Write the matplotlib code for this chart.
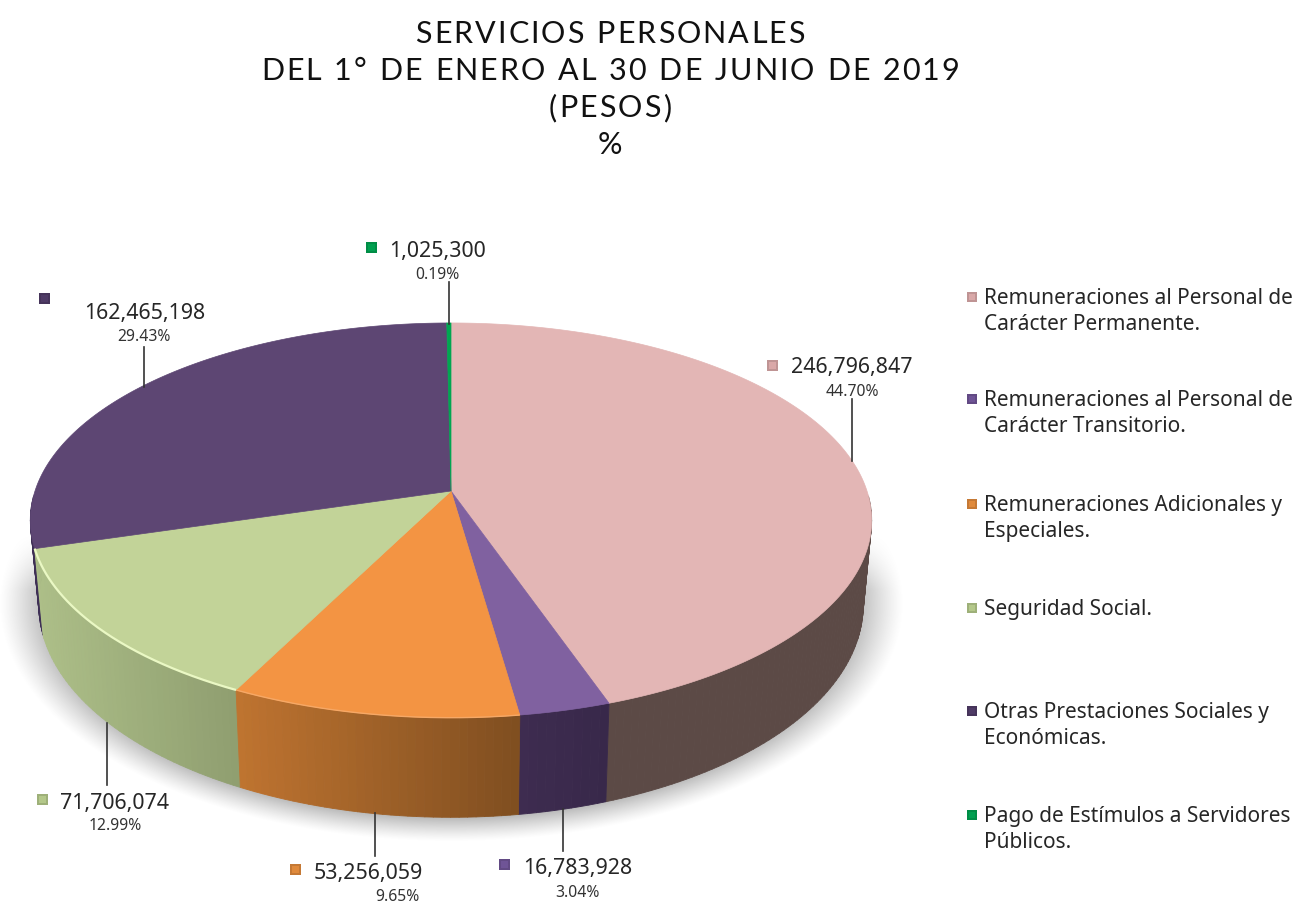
import numpy as np
import matplotlib
matplotlib.use("Agg")
import matplotlib.pyplot as plt
from matplotlib.collections import PolyCollection
from matplotlib.colors import to_rgb
from matplotlib.patches import Polygon, Rectangle
from matplotlib.text import Text
from matplotlib.transforms import Bbox, IdentityTransform

# ---------- data ----------
title_lines = ["SERVICIOS PERSONALES", "DEL 1° DE ENERO AL 30 DE JUNIO DE 2019", "(PESOS)", "%"]
categories = ["Remuneraciones al Personal de\nCarácter Permanente.",
              "Remuneraciones al Personal de\nCarácter Transitorio.",
              "Remuneraciones Adicionales y\nEspeciales.",
              "Seguridad Social.",
              "Otras Prestaciones Sociales y\nEconómicas.",
              "Pago de Estímulos a Servidores\nPúblicos."]
values = [246796847, 16783928, 53256059, 71706074, 162465198, 1025300]
percents = ["44.70%", "3.04%", "9.65%", "12.99%", "29.43%", "0.19%"]

# ---------- style ----------
top_colors = ["#E3B6B5", "#8061A0", "#F39443", "#C2D398", "#5D4673", "#00A651"]
wall_left = ["#5C4A46", "#3E2C50", "#BF7430", "#ADBF88", "#3E2F55", "#006B34"]
wall_right = ["#5C4A46", "#38284A", "#7F4E20", "#8F9E70", "#3E2F55", "#006B34"]
marker_colors = ["#D9A8A8", "#6F5496", "#E08A3C", "#B4C88A", "#4F3B66", "#00A050"]

CX, CY, A, B, K = 451, 492, 416, 193, 0.1486
A2, B2, CY2 = 0.98 * A, 208, 574

def top_pt(t):
    w = 1 + K * np.cos(t)
    return CX + A * np.sin(t) / w, CY - B * np.cos(t) / w

def bot_pt(t):
    w = 1 + K * np.cos(t)
    return CX + A2 * np.sin(t) / w, CY2 - B2 * np.cos(t) / w


class SpacedText(Text):
    """A single line of text drawn with extra tracking between its letters."""
    def __init__(self, *args, tracking=0, **kw):
        super().__init__(*args, **kw)
        self.tracking = tracking

    def _advances(self, renderer):
        fp = self.get_fontproperties()
        adv = []
        for ch in self.get_text():
            w, _, _ = renderer.get_text_width_height_descent(ch, fp, False)
            if ch == " ":
                w = 0.28 * renderer.points_to_pixels(fp.get_size_in_points())
            adv.append(w)
        return adv

    def _extent(self, renderer):
        adv = self._advances(renderer)
        total = sum(adv) + self.tracking * (len(adv) - 1)
        x, y = self.get_transform().transform(self.get_position())
        return x - total / 2, y, total, adv

    def draw(self, renderer):
        x0, y, _, adv = self._extent(renderer)
        x = x0
        for ch, w in zip(self.get_text(), adv):
            t = Text(x, y, ch, transform=IdentityTransform(), ha="left", va="baseline",
                     color=self.get_color(), fontproperties=self.get_fontproperties())
            t.set_figure(self.get_figure())
            t.draw(renderer)
            x += w + self.tracking

    def get_window_extent(self, renderer=None, dpi=None):
        renderer = renderer or self.get_figure().canvas.get_renderer()
        x0, y, total, _ = self._extent(renderer)
        h = renderer.points_to_pixels(self.get_fontproperties().get_size_in_points())
        return Bbox.from_bounds(x0, y - 0.2 * h, total, h)


fig = plt.figure(figsize=(12.98, 9.03), dpi=100, facecolor="white")
ax = fig.add_axes([0, 0, 1, 1])
ax.set_xlim(0, 1298)
ax.set_ylim(903, 0)
ax.axis("off")

# ---------- soft shadow under the pie ----------
yy, xx = np.mgrid[520:860, 0:930]
r = np.sqrt(((xx - 451) / 452) ** 2 + ((yy - 604) / 238) ** 2)
alpha = np.clip((1 - r) / 0.11, 0, 1) ** 1.2 * 0.72
alpha *= np.clip((yy - 535) / 55, 0, 1)
rgba = np.zeros(xx.shape + (4,))
rgba[..., :3] = 0.58
rgba[..., 3] = alpha
ax.imshow(rgba, extent=(0, 930, 860, 520), origin="upper", aspect="auto", zorder=1)
ax.set_xlim(0, 1298)
ax.set_ylim(903, 0)

# ---------- wedges, from the values ----------
fracs = np.array(values, dtype=float) / sum(values)
edges = np.concatenate([[0], np.cumsum(fracs)]) * 2 * np.pi
quads, quad_cols, quad_depth = [], [], []
for i in range(len(values)):
    n = max(4, int(np.degrees(edges[i + 1] - edges[i])))
    ts = np.linspace(edges[i], edges[i + 1], n + 1)
    c0, c1 = np.array(to_rgb(wall_left[i])), np.array(to_rgb(wall_right[i]))
    for a, b in zip(ts[:-1], ts[1:]):
        if np.cos((a + b) / 2) > -0.02:   # the back of the rim is hidden by the top face
            continue
        q = [top_pt(a), top_pt(b), bot_pt(b), bot_pt(a)]
        xs0, xs1 = top_pt(edges[i])[0], top_pt(edges[i + 1])[0]
        lo, hi = min(xs0, xs1), max(xs0, xs1)
        f = np.clip((top_pt((a + b) / 2)[0] - lo) / max(hi - lo, 1), 0, 1)
        quads.append(q)
        quad_cols.append(c0 + (c1 - c0) * f)
        quad_depth.append(np.cos((a + b) / 2))
order = np.argsort(quad_depth)[::-1]
ax.add_collection(PolyCollection([quads[j] for j in order],
                                 facecolors=[quad_cols[j] for j in order],
                                 edgecolors=[quad_cols[j] for j in order],
                                 linewidths=0.6, zorder=2))

for i in range(len(values)):
    ts = np.linspace(edges[i], edges[i + 1], 180)
    px, py = top_pt(ts)
    ax.add_patch(Polygon(np.vstack([[CX, CY], np.column_stack([px, py])]), closed=True,
                         facecolor=top_colors[i], edgecolor=top_colors[i], linewidth=0.5, zorder=3))
    if i == 3:
        ax.plot(px, py, color="#EAF8C4", lw=1.6, zorder=4, solid_capstyle="butt")
    if i == 2:
        ax.plot(px, py, color="#F6A866", lw=1.0, zorder=4, solid_capstyle="butt")


# ---------- value labels ----------
def marker(x, y, color, size=11):
    c = np.array(to_rgb(color))
    ax.add_patch(Rectangle((x - size / 2, y - size / 2), size, size, facecolor=c * 0.88,
                           edgecolor="none", zorder=6))
    ax.add_patch(Rectangle((x - size / 2 + 2, y - size / 2 + 2), size - 4, size - 4,
                           facecolor=c * 1.0, edgecolor="none", zorder=7))


label_font = "Noto Sans"
value_pos = [(791, 368), (523, 869), (314, 874), (60, 804), (84, 314), (389, 252)]
pct_pos = [(852, 392), (577, 893), (397, 897), (115, 826), (144, 337), (437, 275)]
marker_pos = [(772, 366), (504, 866), (295, 871), (42, 801), (44, 299), (371, 248)]
leader = [(852, 400, 462), (563, 810, 852), (375, 814, 857), (107, 724, 786), (144, 348, 388), (449, 283, 325)]
for i, v in enumerate(values):
    ax.text(value_pos[i][0], value_pos[i][1], f"{v:,}", family=label_font, fontsize=15.4,
            color="#262626", ha="left", va="center", zorder=8)
    ax.text(pct_pos[i][0], pct_pos[i][1], percents[i], family=label_font, fontsize=11.3,
            color="#333333", ha="center", va="center", zorder=8)
    marker(*marker_pos[i], marker_colors[i])
    lx, y0, y1 = leader[i]
    ax.plot([lx, lx], [y0, y1], color="#333333", lw=1.2, zorder=5)

# ---------- legend ----------
legend_y = [298, 400, 505, 609, 712, 816]
for i, cat in enumerate(categories):
    marker(972, legend_y[i], marker_colors[i], size=10)
    ax.text(984, legend_y[i] - 10, cat, family=label_font, fontsize=15.0, color="#262626",
            ha="left", va="top", linespacing=1.33, zorder=8)

# ---------- title ----------
title_y = [43, 80, 117, 154]
for line, y in zip(title_lines, title_y):
    t = SpacedText(610, y, line, tracking=2.1, transform=ax.transData, ha="center", va="baseline",
                   color="#111111", family="Lato", fontsize=22)
    ax.add_artist(t)

fig.savefig("out.png", dpi=100, facecolor="white")
